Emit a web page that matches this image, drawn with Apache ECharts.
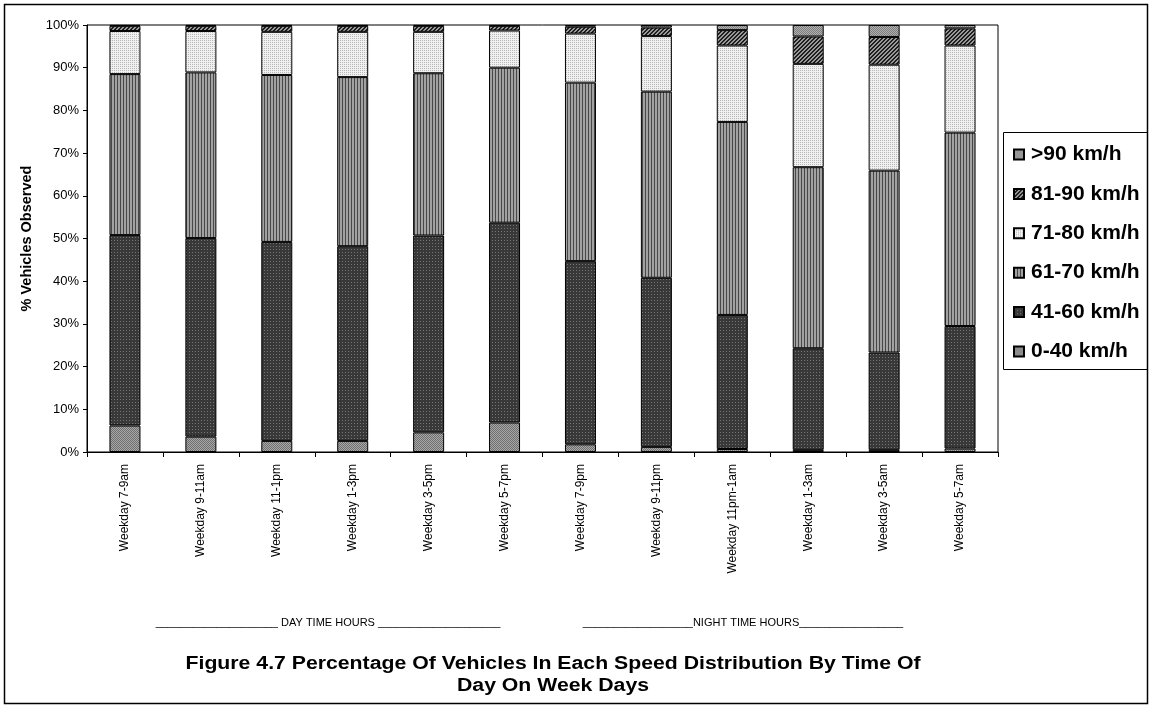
<!DOCTYPE html>
<html>
<head>
<meta charset="utf-8">
<script src="https://cdn.jsdelivr.net/npm/echarts@6/dist/echarts.min.js"></script>
<style>
  html, body { margin: 0; padding: 0; background: #fff; }
  #chart { width: 1152px; height: 708px; }
</style>
</head>
<body>
<div id="chart"></div>
<script>
// Time-of-day periods on week days
const categories = [
  'Weekday 7-9am', 'Weekday 9-11am', 'Weekday 11-1pm', 'Weekday 1-3pm',
  'Weekday 3-5pm', 'Weekday 5-7pm', 'Weekday 7-9pm', 'Weekday 9-11pm',
  'Weekday 11pm-1am', 'Weekday 1-3am', 'Weekday 3-5am', 'Weekday 5-7am'
];

// Share of vehicles (%) in each speed band, per period
const speed0to40  = [6.2, 3.6, 2.6, 2.6, 4.6, 6.9, 1.8, 1.2, 0.7, 0.5, 0.5, 0.8];
const speed41to60 = [44.6, 46.5, 46.6, 45.6, 46.1, 46.8, 42.9, 39.6, 31.4, 23.8, 22.8, 28.7];
const speed61to70 = [37.7, 38.8, 39.1, 39.6, 38.0, 36.3, 41.8, 43.6, 45.2, 42.4, 42.6, 45.3];
const speed71to80 = [10.1, 9.7, 10.1, 10.6, 9.7, 8.7, 11.5, 13.0, 17.9, 24.2, 24.8, 20.4];
const speed81to90 = [1.2, 1.2, 1.4, 1.4, 1.4, 1.1, 1.6, 2.0, 3.6, 6.4, 6.5, 4.0];
const speedOver90 = [0.2, 0.2, 0.2, 0.2, 0.2, 0.2, 0.4, 0.6, 1.2, 2.7, 2.8, 0.8];

const seriesNames = ['0-40 km/h', '41-60 km/h', '61-70 km/h', '71-80 km/h', '81-90 km/h', '>90 km/h'];
const yTicks = [0, 10, 20, 30, 40, 50, 60, 70, 80, 90, 100];

// Small repeating fill tiles imitating monochrome print patterns
function tile(w, h, draw) {
  const c = document.createElement('canvas');
  c.width = w; c.height = h;
  const ctx = c.getContext('2d');
  draw(ctx);
  return { image: c, repeat: 'repeat' };
}
function dots(bg, fg, w, h, pts) {
  return tile(w, h, ctx => {
    ctx.fillStyle = bg; ctx.fillRect(0, 0, w, h);
    ctx.fillStyle = fg;
    pts.forEach(p => ctx.fillRect(p[0], p[1], 1, 1));
  });
}
const fillGreyDots = dots('#a8a8a8', '#6e6e6e', 2, 2, [[0, 0], [1, 1]]);
const fillDark = dots('#383838', '#767676', 3, 3, [[0, 0]]);
const fillStripes = tile(3, 4, ctx => {
  ctx.fillStyle = '#a2a2a2'; ctx.fillRect(0, 0, 3, 4);
  ctx.fillStyle = '#484848'; ctx.fillRect(0, 0, 1, 4);
});
const fillLight = dots('#f0f0f0', '#b8b8b8', 2, 2, [[0, 0]]);
const fillHatch = tile(4, 4, ctx => {
  ctx.fillStyle = '#9a9a9a'; ctx.fillRect(0, 0, 4, 4);
  ctx.fillStyle = '#1e1e1e';
  for (let i = 0; i < 4; i++) {
    ctx.fillRect(i, 3 - i, 1, 1);
    ctx.fillRect((i + 1) % 4, 3 - i, 1, 1);
  }
});
const fillTop = dots('#b0b0b0', '#7c7c7c', 2, 2, [[0, 0], [1, 1]]);

const fills = [fillGreyDots, fillDark, fillStripes, fillLight, fillHatch, fillTop];
const values = [speed0to40, speed41to60, speed61to70, speed71to80, speed81to90, speedOver90];

const chart = echarts.init(document.getElementById('chart'), null, { renderer: 'canvas' });

const font = 'Liberation Sans, Arial, sans-serif';

chart.setOption({
  animation: false,
  backgroundColor: '#fff',
  grid: {
    left: 87, right: 154, top: 25, bottom: 256,
    show: true, borderColor: '#000', borderWidth: 1, backgroundColor: 'transparent'
  },
  legend: {
    orient: 'vertical',
    left: 1004, top: 132,
    data: seriesNames.slice().reverse(),
    itemWidth: 10, itemHeight: 10, itemGap: 18.4,
    padding: [12, 0, 8, 9],
    textStyle: { fontFamily: font, fontSize: 21, fontWeight: 'bold', color: '#000', padding: [0, 0, 0, 2] },
    icon: 'rect'
  },
  xAxis: {
    type: 'category',
    data: categories,
    axisLine: { lineStyle: { color: '#000', width: 1 } },
    axisTick: { show: true, length: 5, interval: 0, lineStyle: { color: '#000' } },
    axisLabel: { rotate: 90, interval: 0, margin: 12, fontFamily: font, fontSize: 12, color: '#000' }
  },
  yAxis: {
    type: 'value',
    min: 0, max: 100, interval: 10,
    name: '% Vehicles Observed',
    nameLocation: 'middle',
    nameGap: 44,
    nameTextStyle: { fontFamily: font, fontSize: 14.5, fontWeight: 'bold', color: '#000' },
    axisLine: { show: true, lineStyle: { color: '#000', width: 1 } },
    axisTick: { show: true, length: 4, lineStyle: { color: '#000' } },
    splitLine: { show: false },
    axisLabel: {
      fontFamily: font, fontSize: 13, color: '#000', margin: 8,
      formatter: v => (yTicks.indexOf(v) >= 0 ? v + '%' : '')
    }
  },
  series: seriesNames.map((name, i) => ({
    name: name,
    type: 'bar',
    stack: 'share',
    barWidth: 31,
    data: values[i],
    itemStyle: { color: fills[i], borderColor: '#000', borderWidth: 1 },
    emphasis: { disabled: true }
  })),
  graphic: [
    {
      type: 'rect', silent: true,
      shape: { x: 4.5, y: 4.5, width: 1143, height: 699 },
      style: { fill: 'none', stroke: '#000', lineWidth: 1.5 }
    },
    {
      // legend frame
      type: 'rect', silent: true,
      shape: { x: 1003.5, y: 132.5, width: 144, height: 237 },
      style: { fill: 'none', stroke: '#000', lineWidth: 1 }
    },
    {
      type: 'text', silent: true, x: 328, y: 623,
      style: {
        text: '____________________ DAY TIME HOURS ____________________',
        fontFamily: font, fontSize: 11, fill: '#000', align: 'center', verticalAlign: 'middle'
      }
    },
    {
      type: 'text', silent: true, x: 743, y: 623,
      style: {
        text: '__________________NIGHT TIME HOURS_________________',
        fontFamily: font, fontSize: 11, fill: '#000', align: 'center', verticalAlign: 'middle'
      }
    },
    {
      // figure caption, set slightly wide like the printed original
      type: 'text', silent: true, x: 553, y: 675, scaleX: 1.18,
      style: {
        text: 'Figure 4.7 Percentage Of Vehicles In Each Speed Distribution By Time Of\nDay On Week Days',
        fontFamily: font, fontSize: 18, fontWeight: 'bold', fill: '#000',
        align: 'center', verticalAlign: 'middle', lineHeight: 22
      }
    }
  ]
});
</script>
</body>
</html>
